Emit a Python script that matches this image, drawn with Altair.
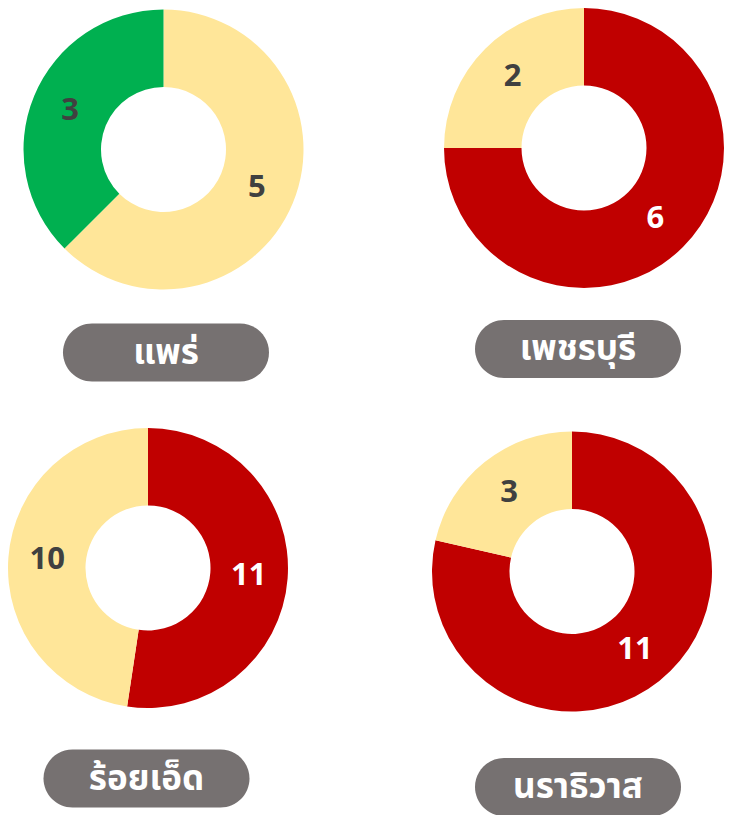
import altair as alt
import pandas as pd

# ---- data ----
provinces = ["แพร่", "เพชรบุรี", "ร้อยเอ็ด", "นราธิวาส"]
segment_groups = [
    ["เหลือง", "เขียว"],
    ["แดง", "เหลือง"],
    ["แดง", "เหลือง"],
    ["แดง", "เหลือง"],
]
segment_values = [
    [5, 3],
    [6, 2],
    [11, 10],
    [11, 3],
]

category_names = ["แดง", "เหลือง", "เขียว"]
category_colors = ["#C00000", "#FFE699", "#00B050"]

# ---- layout (pixel positions of each donut / label pill inside the view) ----
donut_centers = [(155.5, 141.5), (576, 140), (140, 560), (564, 563.5)]
pill_centers = [(158, 344.5), (570, 341), (138.5, 770.5), (570, 779)]
INNER_R, OUTER_R, LABEL_R = 62.5, 140, 101
PILL_W, PILL_H = 206, 58
FONT = "Noto Sans Thai, Noto Sans, Inter, sans-serif"

color_scale = alt.Scale(domain=category_names, range=category_colors)


def donut(i):
    df = pd.DataFrame({
        "province": provinces[i],
        "category": segment_groups[i],
        "value": segment_values[i],
        "order": list(range(len(segment_values[i]))),
    })
    cx, cy = donut_centers[i]
    base = alt.Chart(df).encode(
        theta=alt.Theta("value:Q", stack="normalize"),
        order=alt.Order("order:Q"),
    )
    arcs = base.mark_arc(innerRadius=INNER_R, outerRadius=OUTER_R).encode(
        color=alt.Color("category:N", scale=color_scale, legend=None),
        x=alt.value(cx), y=alt.value(cy),
    )
    labels = base.mark_text(radius=LABEL_R, fontSize=31, fontWeight="bold",
                            font=FONT, align="center", baseline="middle").encode(
        text=alt.Text("value:Q"),
        color=alt.condition(alt.datum.category == "แดง",
                            alt.value("#FFFFFF"), alt.value("#404040")),
        x=alt.value(cx), y=alt.value(cy),
    )
    return [arcs, labels]


def pill(i):
    pdf = pd.DataFrame({"province": [provinces[i]]})
    px, py = pill_centers[i]
    box = alt.Chart(pdf).mark_rect(cornerRadius=PILL_H / 2, color="#767171").encode(
        x=alt.value(px - PILL_W / 2), x2=alt.value(px + PILL_W / 2),
        y=alt.value(py - PILL_H / 2), y2=alt.value(py + PILL_H / 2),
    )
    txt = alt.Chart(pdf).mark_text(fontSize=35, fontWeight="bold", font=FONT,
                                    color="#FFFFFF", align="center",
                                    baseline="middle").encode(
        text="province:N", x=alt.value(px), y=alt.value(py),
    )
    return [box, txt]


layers = []
for i in range(len(provinces)):
    layers += donut(i)
    layers += pill(i)

chart = (
    alt.layer(*layers)
    .properties(width=722, height=799, padding=0)
    .configure_view(stroke=None)
)

chart.save("out.html", embed_options={"renderer": "svg", "actions": False})
